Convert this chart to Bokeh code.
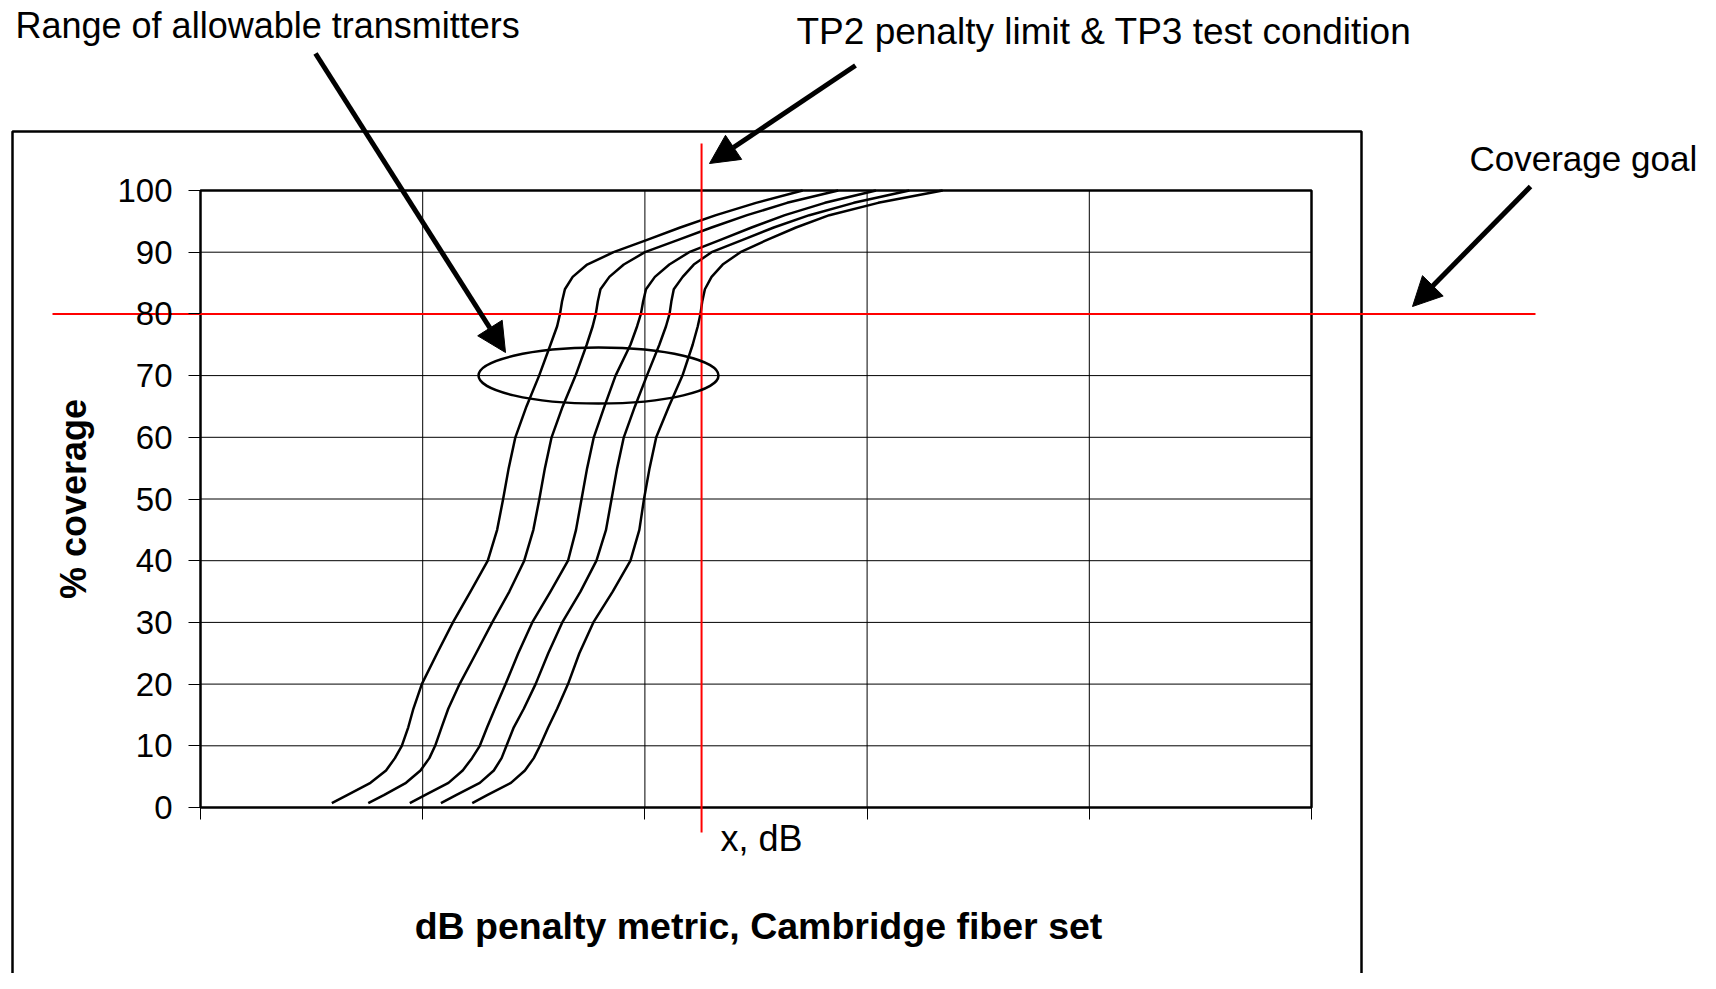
from bokeh.plotting import figure
from bokeh.models import Range1d, LinearAxis, FixedTicker, Label, Arrow, NormalHead
from bokeh.embed import file_html
from bokeh.resources import INLINE

# ---------------- data ----------------
coverage_levels = [0.7, 2, 4, 6, 8, 10, 13, 16, 20, 25, 30, 35, 40, 45, 50, 55, 60, 65, 70,
                   75, 78, 80, 82, 84, 86, 88, 90, 92, 94, 96, 98, 100]
tx_1_db = [0.591, 0.660, 0.765, 0.835, 0.875, 0.906, 0.935, 0.958, 0.996, 1.065, 1.136, 1.215,
           1.293, 1.335, 1.362, 1.387, 1.417, 1.467, 1.524, 1.575, 1.605, 1.618, 1.627, 1.640,
           1.675, 1.740, 1.859, 2.010, 2.159, 2.320, 2.500, 2.710]
tx_2_db = [0.755, 0.825, 0.925, 0.990, 1.030, 1.056, 1.085, 1.115, 1.166, 1.240, 1.313, 1.390,
           1.457, 1.498, 1.525, 1.550, 1.580, 1.630, 1.688, 1.738, 1.765, 1.779, 1.788, 1.800,
           1.840, 1.905, 2.000, 2.150, 2.300, 2.460, 2.640, 2.870]
tx_3_db = [0.942, 1.010, 1.116, 1.180, 1.222, 1.257, 1.290, 1.325, 1.373, 1.430, 1.493, 1.575,
           1.654, 1.690, 1.715, 1.740, 1.770, 1.818, 1.868, 1.935, 1.965, 1.982, 1.992, 2.005,
           2.045, 2.110, 2.199, 2.340, 2.480, 2.630, 2.810, 3.040]
tx_4_db = [1.082, 1.150, 1.257, 1.320, 1.355, 1.377, 1.410, 1.455, 1.508, 1.565, 1.628, 1.710,
           1.782, 1.825, 1.850, 1.875, 1.905, 1.955, 2.009, 2.065, 2.095, 2.111, 2.119, 2.130,
           2.170, 2.220, 2.300, 2.440, 2.580, 2.740, 2.940, 3.190]
tx_5_db = [1.223, 1.290, 1.397, 1.460, 1.500, 1.528, 1.565, 1.605, 1.654, 1.705, 1.768, 1.855,
           1.935, 1.975, 1.996, 2.021, 2.051, 2.108, 2.169, 2.215, 2.238, 2.250, 2.258, 2.270,
           2.300, 2.350, 2.430, 2.550, 2.680, 2.830, 3.050, 3.340]

y_ticks = [0, 10, 20, 30, 40, 50, 60, 70, 80, 90, 100]
x_ticks = [0, 1, 2, 3, 4, 5]
coverage_goal = 80
tp2_limit_db = 2.255

# ---------------- layout ----------------
W, H = 1700, 973
PAGE = 0
X0, SX = 200.0, 222.2   # screen px of x=0, px per unit
Y0, SY = 807.0, 6.17    # screen px of y=0, px per unit


def fx(px):
    return (px - X0) / SX


def fy(py):
    return (Y0 - py) / SY


FONT = "Liberation Sans"

p = figure(width=W, height=H,
           x_range=Range1d(fx(PAGE), fx(PAGE + W)),
           y_range=Range1d(fy(PAGE + H), fy(PAGE)),
           min_border=0, toolbar_location=None, output_backend="svg",
           x_axis_type=None, y_axis_type=None, outline_line_color=None)
p.background_fill_color = "white"
p.border_fill_color = "white"

# outer chart-area box
p.line(x=[fx(12), fx(12), fx(1361), fx(1361)], y=[fy(1000), fy(131), fy(131), fy(1000)],
       line_color="black", line_width=2.5)

# gridlines
xg = x_ticks[1:-1]
p.segment(x0=xg, y0=[y_ticks[0]] * len(xg), x1=xg, y1=[y_ticks[-1]] * len(xg),
          line_color="black", line_width=1)
yg = y_ticks[1:-1]
p.segment(x0=[x_ticks[0]] * len(yg), y0=yg, x1=[x_ticks[-1]] * len(yg), y1=yg,
          line_color="black", line_width=1)

# axes
yaxis = LinearAxis(fixed_location=0, ticker=FixedTicker(ticks=y_ticks), bounds=(0, 100))
yaxis.axis_line_color = None
yaxis.major_tick_out = 12
yaxis.major_tick_in = 0
yaxis.minor_tick_line_color = None
yaxis.major_tick_line_color = "black"
yaxis.major_tick_line_width = 1
yaxis.major_label_text_font = FONT
yaxis.major_label_text_font_size = "33px"
yaxis.major_label_text_color = "black"
yaxis.major_label_standoff = 16
yaxis.axis_label = "% coverage"
yaxis.axis_label_text_font = FONT
yaxis.axis_label_text_font_style = "bold"
yaxis.axis_label_text_font_size = "36px"
yaxis.axis_label_text_color = "black"
yaxis.axis_label_standoff = 20
p.add_layout(yaxis, "left")

xaxis = LinearAxis(fixed_location=0, ticker=FixedTicker(ticks=x_ticks), bounds=(0, 5))
xaxis.axis_line_color = None
xaxis.major_tick_out = 12
xaxis.major_tick_in = 0
xaxis.minor_tick_line_color = None
xaxis.major_tick_line_color = "black"
xaxis.major_tick_line_width = 1
xaxis.major_label_text_color = None
p.add_layout(xaxis, "below")

# plot frame
p.quad(left=x_ticks[0], right=x_ticks[-1], bottom=y_ticks[0], top=y_ticks[-1],
       fill_color=None, line_color="black", line_width=2.5)

# transmitter curves
for xs in [tx_1_db, tx_2_db, tx_3_db, tx_4_db, tx_5_db]:
    p.line(x=xs, y=coverage_levels, line_color="black", line_width=2.5, line_join="round")

# red reference lines
p.segment(x0=[fx(52)], y0=[coverage_goal], x1=[fx(1535)], y1=[coverage_goal],
          line_color="red", line_width=2)
p.segment(x0=[tp2_limit_db], y0=[fy(832)], x1=[tp2_limit_db], y1=[fy(143)],
          line_color="red", line_width=2)

# ellipse around the range at 70 %
p.ellipse(x=fx(598), y=70, width=240 / SX, height=56 / SY,
          fill_color=None, line_color="black", line_width=2.5)

# arrows
for (xs_, ys_, xe_, ye_) in [(315, 53, 505, 352), (855, 65, 709, 163), (1530, 186, 1412, 306)]:
    p.add_layout(Arrow(end=NormalHead(size=29, fill_color="black", line_color="black", line_width=1),
                       x_start=fx(xs_), y_start=fy(ys_), x_end=fx(xe_), y_end=fy(ye_),
                       line_color="black", line_width=5))


# texts
def lab(text, px, py, size, align="left", bold=False):
    p.add_layout(Label(x=fx(px), y=fy(py), text=text, text_font=FONT,
                       text_font_size=size, text_align=align, text_baseline="alphabetic",
                       text_color="black", text_font_style="bold" if bold else "normal"))


lab("Range of allowable transmitters", 15, 25, "36px")
lab("TP2 penalty limit & TP3 test condition", 796, 31, "37px")
lab("Coverage goal", 1469, 158, "35px")
lab("x, dB", 720, 838, "36px")
lab("dB penalty metric, Cambridge fiber set", 758, 925, "37.5px", align="center", bold=True)

open("out.html", "w").write(file_html(p, INLINE))
